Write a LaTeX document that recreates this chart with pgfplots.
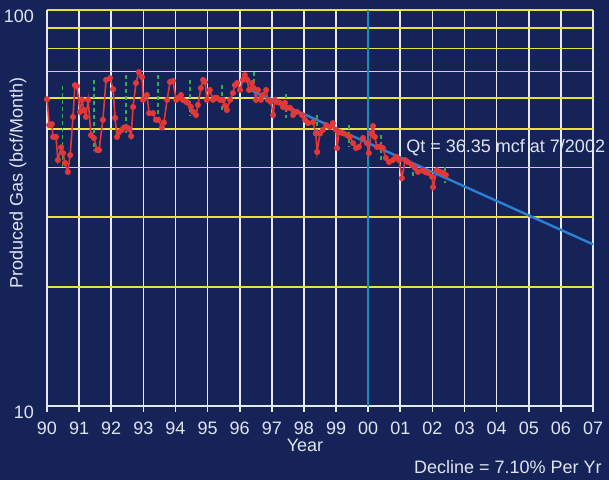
\documentclass[border=0pt]{standalone}
\usepackage{pgfplots}
\pgfplotsset{compat=1.18}
\usepackage{fontspec}
\setmainfont{Liberation Sans}
\definecolor{bgnavy}{RGB}{22,35,88}
\definecolor{gridyel}{RGB}{232,226,60}
\definecolor{gridwht}{RGB}{228,234,244}
\definecolor{txtwht}{RGB}{222,228,238}
\definecolor{datred}{RGB}{226,56,56}
\definecolor{dashgrn}{RGB}{48,176,72}
\definecolor{trendblue}{RGB}{44,128,210}
\definecolor{linecyan}{RGB}{26,140,176}
\begin{document}
\begin{tikzpicture}[font=\fontsize{9}{11}\selectfont]
\fill[bgnavy] (-23.5pt,-37pt) rectangle (281pt,203pt);
\begin{axis}[
  at={(0pt,0pt)}, anchor=south west,
  scale only axis, width=273pt, height=198pt,
  ymode=log, xmin=1990, xmax=2007, ymin=10, ymax=100,
  axis x line*=bottom, axis y line*=left,
  axis line style={-, gridwht, line width=1pt},
  xtick={1990,1991,...,2007},
  xticklabels={90,91,92,93,94,95,96,97,98,99,00,01,02,03,04,05,06,07},
  ytick={10,100}, yticklabels={10,100},
  tick align=outside, major tick length=3pt,
  xtick style={gridwht, line width=0.8pt},
  ytick style={draw=none}, minor tick style={draw=none},
  xmajorgrids=true, ymajorgrids=true, yminorgrids=true,
  x grid style={gridwht, line width=0.8pt},
  y grid style={gridyel, line width=0.8pt},
  minor y grid style={gridyel, line width=0.8pt},
  major y grid style={gridyel, line width=0.8pt},
  tick label style={font=\fontsize{9}{11}\selectfont, text=txtwht},
  xticklabel style={yshift=-1.5pt},
  yticklabel style={yshift=-3pt},
  /pgf/number format/assume math mode=true,
  xlabel={Year}, ylabel={Produced Gas (bcf/Month)},
  label style={font=\fontsize{9}{11}\selectfont, text=txtwht},
  xlabel style={at={(axis description cs:0.4725,-0.0985)}, anchor=center},
  ylabel style={at={(axis description cs:-0.0531,0.563)}, anchor=center},
  clip=false,
  unbounded coords=jump,
]
% cyan line at 2000
\addplot[linecyan, line width=1pt] coordinates {(2000,10) (2000,100)};
% green dashed annual ranges
\addplot[dashgrn, line width=0.9pt, dash pattern=on 2pt off 1.5pt] coordinates {
(1990.48,64.3) (1990.48,40.1) (1990.48,nan)
(1991.47,66.6) (1991.47,44.3) (1991.47,nan)
(1992.46,68.5) (1992.46,48.8) (1992.46,nan)
(1993.45,68.5) (1993.45,53.7) (1993.45,nan)
(1994.45,66.6) (1994.45,54.3) (1994.45,nan)
(1995.44,64.6) (1995.44,55.9) (1995.44,nan)
(1996.44,69.7) (1996.44,62.2) (1996.44,nan)
(1997.43,61.4) (1997.43,53.4) (1997.43,nan)
(1998.41,54.3) (1998.41,48.8) (1998.41,nan)
(1999.40,51.2) (1999.40,45.1) (1999.40,nan)
(2000.40,48.3) (2000.40,41.1) (2000.40,nan)
(2001.40,40.6) (2001.40,38.0) (2001.40,nan)
(2002.39,40.1) (2002.39,36.6)
};
% monthly production
\addplot[datred, line width=0.8pt, mark=*, mark size=1.1pt, mark options={fill=datred, draw=datred}] table {
x y
1990.00 59.5
1990.07 51.2
1990.15 51.5
1990.19 47.8
1990.28 47.8
1990.34 41.8
1990.44 45.0
1990.50 43.5
1990.56 41.1
1990.65 39.0
1990.72 43.0
1990.81 53.7
1990.87 64.6
1990.93 64.3
1991.03 55.3
1991.09 59.3
1991.15 55.9
1991.21 53.7
1991.28 59.3
1991.37 48.3
1991.46 47.5
1991.56 44.3
1991.62 44.3
1991.74 52.8
1991.84 66.6
1991.96 67.3
1992.06 63.1
1992.12 53.4
1992.18 47.8
1992.24 49.1
1992.33 49.8
1992.40 50.5
1992.49 50.5
1992.55 50.1
1992.62 48.0
1992.68 56.9
1992.77 65.4
1992.86 69.7
1992.96 67.7
1992.99 59.3
1993.11 61.0
1993.18 54.9
1993.30 54.9
1993.39 52.8
1993.46 52.8
1993.58 50.5
1993.64 52.0
1993.74 59.3
1993.83 65.8
1993.92 66.2
1994.02 59.3
1994.08 60.0
1994.17 61.0
1994.23 59.3
1994.33 58.6
1994.39 58.3
1994.48 56.9
1994.55 55.3
1994.64 54.3
1994.70 57.6
1994.79 63.5
1994.86 66.6
1994.92 65.8
1994.98 59.3
1995.07 62.8
1995.17 59.3
1995.23 60.0
1995.29 60.0
1995.39 59.3
1995.48 59.3
1995.54 57.3
1995.60 55.9
1995.70 59.3
1995.79 61.7
1995.85 64.6
1995.92 65.4
1996.01 62.8
1996.10 66.6
1996.16 68.5
1996.23 66.6
1996.29 62.8
1996.38 65.4
1996.44 63.5
1996.51 59.3
1996.57 62.8
1996.66 59.3
1996.72 61.0
1996.82 62.8
1996.88 59.3
1996.97 58.6
1997.04 54.3
1997.10 59.3
1997.16 58.6
1997.25 58.3
1997.35 56.9
1997.41 58.3
1997.47 56.6
1997.57 56.6
1997.66 54.3
1997.72 55.3
1997.78 55.3
1997.94 54.3
1998.03 52.8
1998.13 51.8
1998.28 52.1
1998.37 48.8
1998.41 43.8
1998.50 48.8
1998.59 49.8
1998.69 51.2
1998.81 50.6
1998.90 51.8
1999.00 49.8
1999.03 44.8
1999.09 49.1
1999.22 48.8
1999.34 48.3
1999.43 47.8
1999.53 46.1
1999.62 44.8
1999.71 45.1
1999.84 47.5
1999.96 46.1
2000.02 43.5
2000.09 48.8
2000.15 50.9
2000.21 47.8
2000.27 45.1
2000.37 45.1
2000.46 44.8
2000.55 42.3
2000.65 41.3
2000.77 41.8
2000.87 42.6
2000.96 41.8
2001.05 37.6
2001.15 41.8
2001.24 41.3
2001.36 40.6
2001.46 39.9
2001.55 39.0
2001.68 39.4
2001.77 39.0
2001.86 38.8
2001.99 37.9
2002.02 35.7
2002.14 39.4
2002.24 39.0
2002.33 38.8
2002.42 38.3
};
% decline trend
\addplot[trendblue, line width=1.2pt] coordinates {(1996.35,62.7) (2007,25.6)};
\node[anchor=west, text=txtwht, inner sep=0pt] at (axis description cs:0.6575,0.6515) {Qt = 36.35 mcf at 7/2002};
\node[anchor=east, text=txtwht, inner sep=0pt] at (axis description cs:1.0165,-0.155) {Decline = 7.10\% Per Yr};
\end{axis}
\pgfresetboundingbox
\path (-23.5pt,-37pt) rectangle (281pt,203pt);
\end{tikzpicture}
\end{document}
